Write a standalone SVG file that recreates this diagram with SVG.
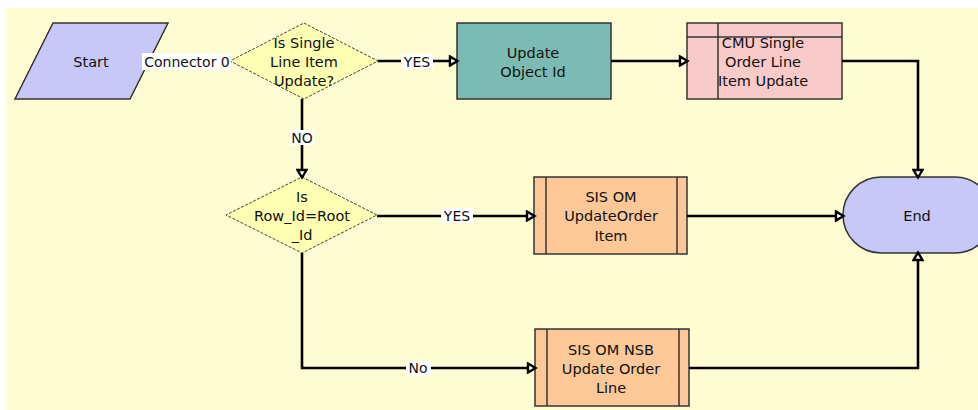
<svg xmlns="http://www.w3.org/2000/svg" width="978" height="410" viewBox="0 0 978 410">
<style>
text{font-family:"DejaVu Sans","Verdana",sans-serif;font-size:14.5px;fill:#111;text-anchor:middle;dominant-baseline:central}
.lbl{font-size:14px}
.c{fill:none;stroke:#000;stroke-width:2.6}
.nd{stroke:#333;stroke-width:1.5}
.dia{fill:#FFFFB4;stroke:#444;stroke-width:1;stroke-dasharray:3 1.5}
.lb{fill:#fff}
</style>
<defs>
<marker id="ah" markerUnits="userSpaceOnUse" markerWidth="12" markerHeight="12" refX="8" refY="5" orient="auto" viewBox="-1 -1 12 12">
<path d="M1,0.5 L8.5,5 L1,9.5 Z" fill="#fff" stroke="#000" stroke-width="2.4"/>
</marker>
</defs>
<rect x="0" y="0" width="978" height="410" fill="#fff"/>
<rect x="6" y="8" width="972" height="402" fill="#FEFCD2"/>
<g id="start">
<polygon class="nd" points="53,23 168,23 130,99 15,99" fill="#C8C8F8"/>
<text x="91" y="62">Start</text>
</g>
<g id="d1">
<polygon class="dia" points="304,23 378,61 304,99 230,61"/>
<text x="304" y="43">Is Single</text>
<text x="304" y="62">Line Item</text>
<text x="304" y="81">Update?</text>
</g>
<g id="updateObjectId">
<rect class="nd" x="457" y="23" width="154" height="76" fill="#7CBAB4"/>
<text x="533" y="53">Update</text>
<text x="533" y="72">Object Id</text>
</g>
<g id="cmu">
<rect class="nd" x="687" y="23" width="155" height="76" fill="#F9CACA"/>
<line class="nd" x1="687" y1="37" x2="842" y2="37"/>
<line class="nd" x1="718" y1="23" x2="718" y2="99"/>
<text x="763" y="43">CMU Single</text>
<text x="763" y="62">Order Line</text>
<text x="763" y="81">Item Update</text>
</g>
<g id="d2">
<polygon class="dia" points="302,177 377,215 302,253 226,215"/>
<text x="302" y="197">Is</text>
<text x="302" y="216">Row_Id=Root</text>
<text x="302" y="235">_Id</text>
</g>
<g id="sisom">
<rect class="nd" x="534" y="177" width="153" height="77" fill="#FCC898"/>
<line class="nd" x1="546" y1="177" x2="546" y2="254"/>
<line class="nd" x1="677" y1="177" x2="677" y2="254"/>
<text x="611" y="197">SIS OM</text>
<text x="611" y="216">UpdateOrder</text>
<text x="611" y="236">Item</text>
</g>
<g id="nsb">
<rect class="nd" x="535" y="329" width="154" height="77" fill="#FCC898"/>
<line class="nd" x1="547" y1="329" x2="547" y2="406"/>
<line class="nd" x1="679" y1="329" x2="679" y2="406"/>
<text x="611" y="350">SIS OM NSB</text>
<text x="611" y="369">Update Order</text>
<text x="611" y="388">Line</text>
</g>
<g id="end">
<rect class="nd" x="843" y="177" width="150" height="76" rx="38" ry="38" fill="#C8C8F8"/>
<text x="917" y="216">End</text>
</g>
<g id="connectors">
<path class="c" d="M145,61 H230"/>
<path class="c" d="M378,61 H457" marker-end="url(#ah)"/>
<path class="c" d="M611,61 H687" marker-end="url(#ah)"/>
<path class="c" d="M842,61 H918 V177" marker-end="url(#ah)"/>
<path class="c" d="M302,99 V177" marker-end="url(#ah)"/>
<path class="c" d="M377,216 H534" marker-end="url(#ah)"/>
<path class="c" d="M687,216 H843" marker-end="url(#ah)"/>
<path class="c" d="M302,253 V368 H535" marker-end="url(#ah)"/>
<path class="c" d="M689,368 H918 V253" marker-end="url(#ah)"/>
<rect class="lb" x="142" y="53" width="89" height="17"/>
<text class="lbl" x="187" y="62">Connector 0</text>
<rect class="lb" x="401" y="54" width="32" height="15"/>
<text class="lbl" x="417" y="62">YES</text>
<rect class="lb" x="441" y="208" width="32" height="15"/>
<text class="lbl" x="457" y="216">YES</text>
<rect class="lb" x="290" y="130" width="24" height="15"/>
<text class="lbl" x="302" y="138">NO</text>
<rect class="lb" x="406" y="361" width="25" height="15"/>
<text class="lbl" x="418" y="368">No</text>
</g>
</svg>
